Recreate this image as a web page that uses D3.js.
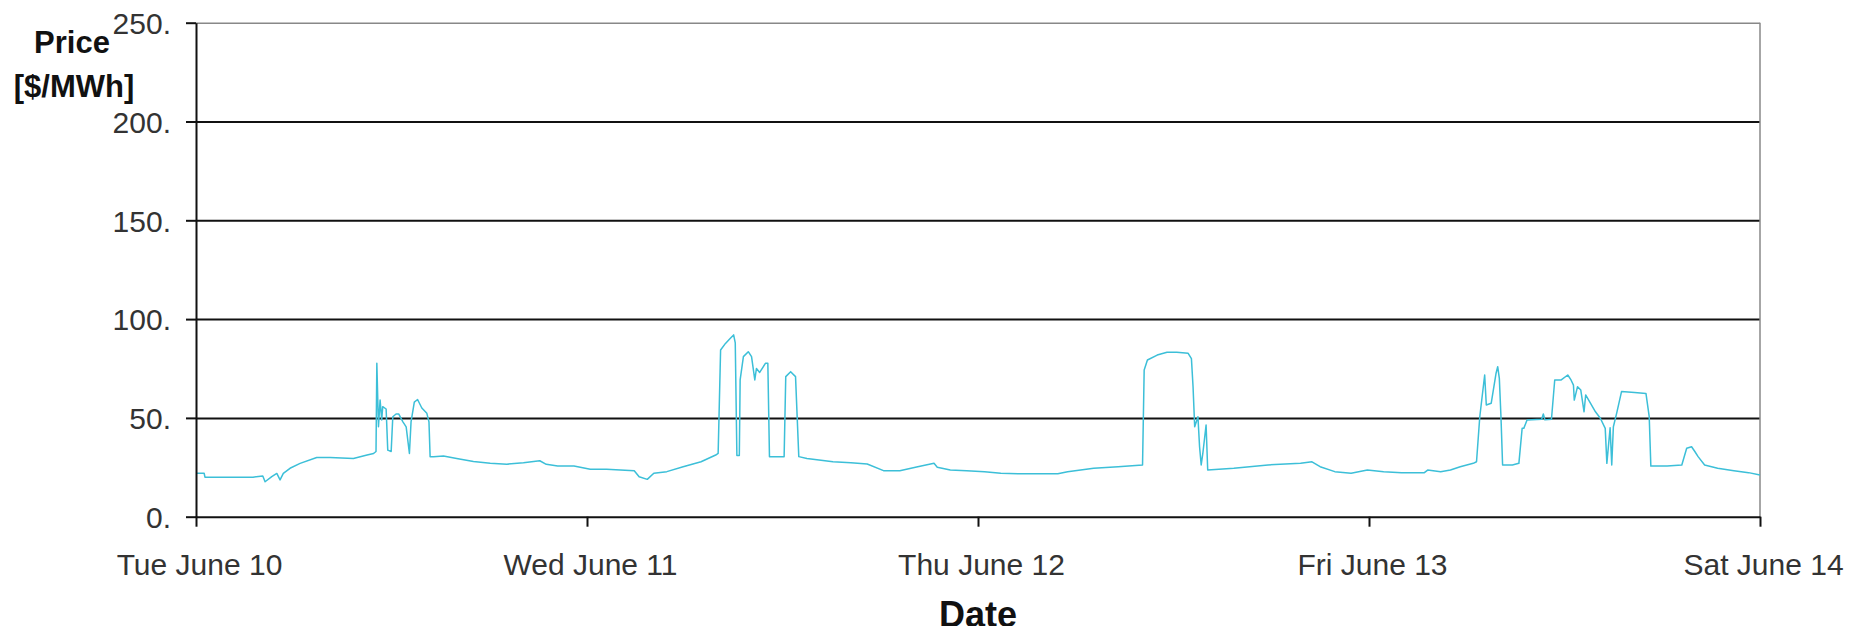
<!DOCTYPE html>
<html>
<head>
<meta charset="utf-8">
<script src="https://cdn.jsdelivr.net/npm/d3@7"></script>
<style>
  html, body { margin: 0; padding: 0; background: #fff; }
  svg { display: block; }
</style>
</head>
<body>
<svg id="chart" width="1868" height="626"></svg>
<script>
// ---- data (hours since Tue June 10 00:00, price $/MWh) ----
const hours = [
  0, 0.5, 0.55, 3.5, 4.1, 4.24, 4.65, 4.96, 5.16, 5.36, 5.77, 6.39, 7.41, 8.23, 9.66, 10.5, 10.9, 11.05,
  11.1, 11.2, 11.3, 11.4, 11.46, 11.67, 11.77, 11.98, 12.08, 12.28, 12.44, 12.7, 12.9, 13.1, 13.2, 13.4,
  13.6, 13.86, 14.17, 14.3, 14.37, 14.58, 15.19, 16.0, 17.03, 18.06, 19.08, 20.1, 21.1, 21.5, 22.2, 23.2,
  24.2, 25.2, 26.9, 27.2, 27.7, 28.1, 28.9, 29.9, 31.0, 31.9, 32.05, 32.2, 32.5, 32.8, 33.0, 33.1, 33.2,
  33.35, 33.4, 33.6, 33.9, 34.1, 34.3, 34.4, 34.6, 34.95, 35.1, 35.2, 36.1, 36.2, 36.5, 36.8, 37.0, 37.5,
  39.1, 40.2, 41.2, 42.2, 43.2, 44.3, 45.3, 45.5, 46.3, 47.3, 48.4, 49.4, 50.6, 52.9, 53.5, 55.1, 56.6,
  58.1, 58.2, 58.4, 59.0, 59.6, 60.2, 60.9, 61.1, 61.2, 61.3, 61.5, 61.6, 61.7, 61.8, 62.0, 62.1, 63.7,
  65.8, 67.8, 68.5, 69.0, 69.9, 70.9, 71.9, 72.9, 74.0, 75.4, 75.6, 76.4, 77.0, 77.6, 78.4, 78.6, 78.8,
  79.1, 79.2, 79.5, 79.8, 79.9, 80.0, 80.1, 80.2, 80.8, 81.2, 81.4, 81.5, 81.7, 82.6, 82.7, 82.8, 83.2,
  83.4, 83.8, 84.2, 84.4, 84.55, 84.6, 84.8, 85.0, 85.2, 85.3, 85.6, 85.9, 86.2, 86.5, 86.6, 86.8, 86.9,
  87.0, 87.2, 87.5, 88.3, 89.0, 89.2, 89.3, 90.3, 91.2, 91.5, 91.8, 92.0, 92.2, 92.6, 93.4, 94.4, 95.3, 96.0
];
const prices = [
  22, 22, 20, 20, 20.6, 17.7, 20.3, 21.9, 18.6, 21.9, 24.5, 27, 30, 30, 29.5, 31.2, 32, 33,
  77.6, 45.5, 59, 49, 55.7, 54.5, 33.7, 33, 50.6, 52, 52, 48, 45.5, 32, 48, 58,
  59.3, 55, 52.3, 48, 30.4, 30.4, 30.7, 29.5, 27.9, 27, 26.6, 27.3, 28.3, 26.5, 25.7, 25.7,
  24, 24, 23.3, 20.2, 18.9, 22, 22.8, 25.3, 27.8, 31.2, 32, 84.4, 87.7, 90.3, 92, 88, 31,
  31, 69.2, 81, 83.5, 81, 69.2, 75, 73, 77.6, 77.6, 30.4, 30.4, 70.9, 73.4, 70.9, 30.4, 29.5,
  27.8, 27.3, 26.7, 23.3, 23.3, 25.3, 27, 25, 23.6, 23.3, 22.8, 22, 21.7, 21.7, 22.8, 24.5, 25.3,
  26.2, 74.2, 79.3, 81.8, 83.2, 83.2, 82.7, 80, 65.8, 45.5, 50.6, 35.4, 26.2, 32, 46.4, 23.6, 24.5,
  26.2, 27, 27.8, 25.3, 22.8, 22, 23.6, 22.8, 22.3, 22.3, 23.6, 22.8, 23.6, 25.3, 27, 27.8, 50.6,
  71.7, 56.5, 57.4, 72.6, 75.9, 70, 50.6, 26.2, 26.2, 27, 44.7, 44.7, 48.9, 49.3, 52, 49, 49.3,
  69.2, 69.2, 71.7, 69.2, 66.6, 59, 65.8, 64.1, 53.1, 61.6, 57.4, 53.1, 49.8, 44.7, 27, 45, 26.2,
  45.5, 52.3, 63.3, 62.8, 62.4, 50.6, 25.6, 25.6, 26.2, 34.6, 35.4, 33, 30.4, 26.2, 24.5, 23.3, 22.3, 21.1
];
const dayTicks = [0, 24, 48, 72, 96];
const dayLabels = ["Tue June 10", "Wed June 11", "Thu June 12", "Fri June 13", "Sat June 14"];
const priceTicks = [0, 50, 100, 150, 200, 250];
const xTitle = "Date";
const yTitle = ["Price", "[$/MWh]"];

// ---- layout ----
const plotL = 196, plotR = 1760, plotT = 22.7, plotB = 516.7;
const svg = d3.select("#chart");
svg.append("rect").attr("width", 1868).attr("height", 626).attr("fill", "#fff");

const x = d3.scaleLinear().domain([0, 96]).range([plotL, plotR]);
const y = d3.scaleLinear().domain([0, 250]).range([plotB, plotT]);
const font = "'Liberation Sans', Arial, sans-serif";

// gridlines
const grid = svg.append("g").attr("transform", `translate(${plotL},0)`)
  .call(d3.axisLeft(y).tickValues(priceTicks.filter(d => d > 0)).tickSize(-(plotR - plotL)).tickFormat(""));
grid.select(".domain").remove();
grid.selectAll(".tick line")
  .attr("stroke", d => d === 250 ? "#888" : "#111")
  .attr("stroke-width", d => d === 250 ? 1.5 : 2);

// right frame
svg.append("line").attr("x1", plotR).attr("x2", plotR).attr("y1", plotT).attr("y2", plotB)
  .attr("stroke", "#888").attr("stroke-width", 1.5);

// price line
const line = d3.line().x((d, i) => x(hours[i])).y((d, i) => y(prices[i]));
svg.append("path")
  .attr("d", line(prices))
  .attr("fill", "none")
  .attr("stroke", "#3cbfd8")
  .attr("stroke-width", 1.5)
  .attr("stroke-linejoin", "round");

// y axis
const yAxis = svg.append("g").attr("transform", `translate(${plotL},0)`)
  .call(d3.axisLeft(y).tickValues(priceTicks).tickSize(10).tickSizeOuter(0).tickFormat(d => d + "."));
yAxis.select(".domain").attr("stroke", "#111").attr("stroke-width", 2);
yAxis.selectAll(".tick line").attr("stroke", "#111").attr("stroke-width", 2);
yAxis.selectAll(".tick text")
  .attr("x", -25).attr("dy", "0.36em")
  .attr("font-family", font).attr("font-size", 30).attr("fill", "#333");

// x axis
const xAxis = svg.append("g").attr("transform", `translate(0,${plotB})`)
  .call(d3.axisBottom(x).tickValues(dayTicks).tickSize(10).tickSizeOuter(0)
    .tickFormat((d, i) => dayLabels[i]));
xAxis.select(".domain").attr("stroke", "#111").attr("stroke-width", 2);
xAxis.selectAll(".tick line").attr("stroke", "#111").attr("stroke-width", 2);
xAxis.selectAll(".tick text")
  .attr("x", 3).attr("y", 58.5).attr("dy", 0)
  .attr("font-family", font).attr("font-size", 30).attr("fill", "#333");

// titles
svg.append("text").attr("x", (plotL + plotR) / 2).attr("y", 627)
  .attr("text-anchor", "middle").attr("font-family", font).attr("font-weight", "bold")
  .attr("font-size", 36).attr("fill", "#111").text(xTitle);
svg.append("text").attr("x", 72).attr("y", 53)
  .attr("text-anchor", "middle").attr("font-family", font).attr("font-weight", "bold")
  .attr("font-size", 31).attr("fill", "#111").text(yTitle[0]);
svg.append("text").attr("x", 74).attr("y", 97)
  .attr("text-anchor", "middle").attr("font-family", font).attr("font-weight", "bold")
  .attr("font-size", 31).attr("fill", "#111").text(yTitle[1]);
</script>
</body>
</html>
